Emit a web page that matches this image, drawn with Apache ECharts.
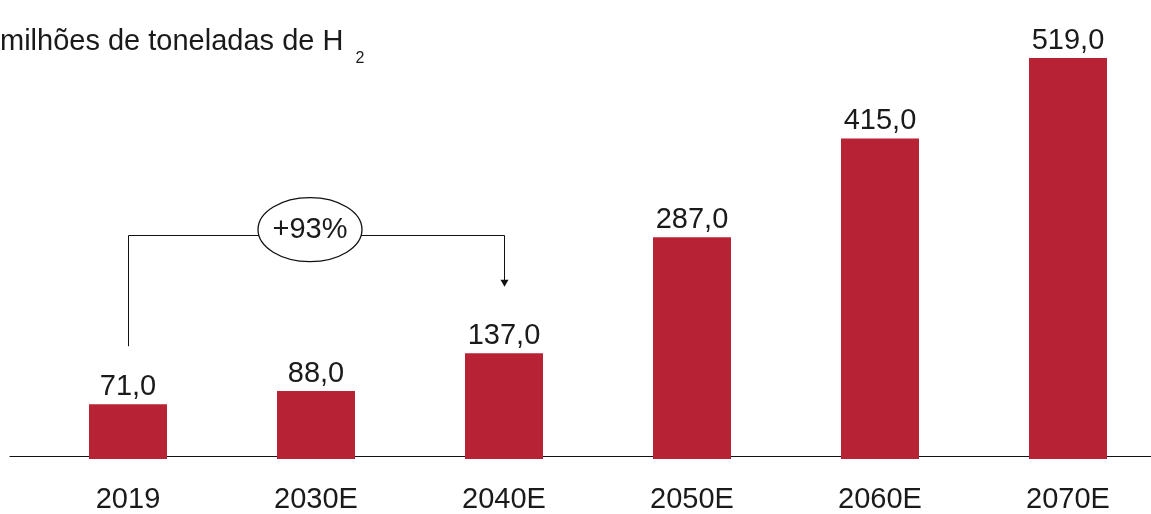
<!DOCTYPE html>
<html><head><meta charset="utf-8">
<script src="https://cdn.jsdelivr.net/npm/echarts@6/dist/echarts.min.js"></script>
<style>html,body{margin:0;padding:0;background:#fff}#c{width:1151px;height:514px}</style>
</head><body><div id="c"></div>
<script>
// ---- data ----
const categories = ['2019', '2030E', '2040E', '2050E', '2060E', '2070E'];
const values = [71.0, 88.0, 137.0, 287.0, 415.0, 519.0];
const unitLabel = 'milhões de toneladas de H';
const unitSub = '2';
const growthLabel = '+93%';
const growthFromIndex = 0;
const growthToIndex = 2;
// bracket levels expressed in chart units
const bracketStart = 146;
const bracketTop = 290;
const bracketEnd = 223;
const bubbleLevel = 297;

const FONT = '"Liberation Sans", "Helvetica Neue", Helvetica, Arial, sans-serif';
const TXT = '#1a1a1a';
const BAR = '#B72335';

const chart = echarts.init(document.getElementById('c'), null, {renderer: 'canvas'});
const fmt = v => v.toFixed(1).replace('.', ',');

chart.setOption({
  animation: false,
  backgroundColor: '#ffffff',
  textStyle: {fontFamily: FONT},
  title: {
    left: 0, top: 38, padding: 0,
    text: '{m|' + unitLabel + '}{sub|' + unitSub + '}',
    textStyle: {
      fontWeight: 'normal',
      rich: {
        m: {fontFamily: FONT, fontSize: 29, fontWeight: 'normal', lineHeight: 29, color: TXT, padding: [0, 0, 11, 0], verticalAlign: 'bottom'},
        sub: {fontFamily: FONT, fontSize: 16, fontWeight: 'normal', lineHeight: 16, color: TXT, padding: [0, 0, 0, 12], verticalAlign: 'bottom'}
      }
    }
  },
  grid: [
    {left: 34, width: 1128, top: 11, bottom: 55, outerBoundsMode: 'none', containLabel: false},
    {left: 10, right: 0, top: 11, bottom: 57.5, outerBoundsMode: 'none', containLabel: false}
  ],
  xAxis: [
    {
      gridIndex: 0, type: 'category', data: categories,
      axisLine: {show: false}, axisTick: {show: false},
      axisLabel: {color: TXT, fontSize: 29, fontFamily: FONT, margin: 26}
    },
    {
      gridIndex: 1, type: 'value', min: 0, max: 1,
      axisLine: {show: true, onZero: false, lineStyle: {color: '#111', width: 1.2}},
      axisTick: {show: false}, axisLabel: {show: false}, splitLine: {show: false}
    }
  ],
  yAxis: [
    {gridIndex: 0, type: 'value', min: 0, max: 580, show: false, splitLine: {show: false}},
    {gridIndex: 1, type: 'value', min: 0, max: 1, show: false, splitLine: {show: false}}
  ],
  series: [{
    type: 'bar',
    xAxisIndex: 0, yAxisIndex: 0,
    data: values,
    barWidth: 78,
    itemStyle: {color: BAR},
    label: {
      show: true, position: 'top', distance: 3,
      color: TXT, fontSize: 29, fontFamily: FONT,
      formatter: p => fmt(p.value)
    }
  }]
});

// ---- growth annotation, positioned through the chart's own scales ----
const px = (ci, v) => chart.convertToPixel({gridIndex: 0}, [ci, v]);
const pA = px(growthFromIndex, bracketStart);
const pAT = px(growthFromIndex, bracketTop);
const pB = px(growthToIndex, bracketEnd);
const midIndex = (growthFromIndex + growthToIndex) / 2;
const pC = px(midIndex, bubbleLevel);
const ax = Math.round(pA[0]) + 0.5, bx = Math.round(pB[0]) + 0.5, ty = Math.round(pAT[1]) + 0.5;

chart.setOption({
  graphic: [
    {type: 'polyline', z: 10, shape: {points: [[ax, pA[1]], [ax, ty], [bx, ty], [bx, pB[1] - 6]]},
     style: {stroke: '#111', lineWidth: 1, fill: null}},
    {type: 'polygon', z: 10, shape: {points: [[bx - 4, pB[1] - 7], [bx + 4, pB[1] - 7], [bx, pB[1]]]},
     style: {fill: '#111'}},
    {type: 'ellipse', z: 11, shape: {cx: pC[0] - 6, cy: pC[1], rx: 52, ry: 32},
     style: {fill: '#fff', stroke: '#111', lineWidth: 1.3}},
    {type: 'text', z: 12, x: pC[0] - 6, y: pC[1],
     style: {text: growthLabel, fontSize: 29, fontFamily: FONT, fill: TXT, align: 'center', verticalAlign: 'middle'}}
  ]
});
</script>
</body></html>
